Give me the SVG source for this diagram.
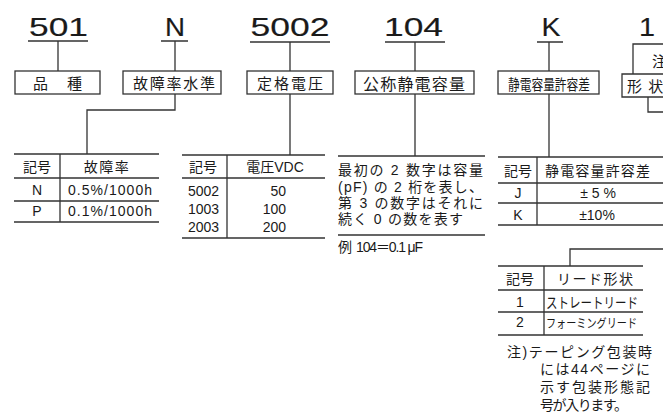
<svg xmlns="http://www.w3.org/2000/svg" width="663" height="414" viewBox="0 0 663 414">
<style>
.ln{stroke:#333;stroke-width:1.3;fill:none}
.bx{fill:#fff;stroke:#333;stroke-width:1.3}
.t{font-family:"Liberation Sans","Noto Sans CJK JP",sans-serif;fill:#1a1a1a}
.code{font-size:25px;stroke:#1a1a1a;stroke-width:0.15}
.lbl{font-size:15px}
.tb{font-size:14px}
.m{text-anchor:middle}
</style>
<rect width="663" height="414" fill="#fff"/>

<g id="connectors" class="ln">
<path d="M28 41H88M58 41V71"/>
<path d="M161 41H188M175 41V71M175 94V110H87V154"/>
<path d="M250 42H330M290 42V71M290 94V155"/>
<path d="M385 42H445M415 42V71M415 94V156"/>
<path d="M537 42H563M549 42V71M549 94V157"/>
<path d="M633 74V44H663"/>
<path d="M648 97V112H663"/>
<path d="M663 249H570V266"/>
</g>

<g id="code-501"><text class="t code" x="29" y="36" textLength="59" lengthAdjust="spacingAndGlyphs">501</text></g>
<g id="code-N"><text class="t code m" x="175" y="36" textLength="20" lengthAdjust="spacingAndGlyphs">N</text></g>
<g id="code-5002"><text class="t code" x="250.5" y="36" textLength="79" lengthAdjust="spacingAndGlyphs">5002</text></g>
<g id="code-104"><text class="t code" x="384" y="36" textLength="59" lengthAdjust="spacingAndGlyphs">104</text></g>
<g id="code-K"><text class="t code m" x="551" y="36" textLength="19" lengthAdjust="spacingAndGlyphs">K</text></g>
<g id="code-1"><text class="t code" x="639" y="36" textLength="16" lengthAdjust="spacingAndGlyphs">1</text></g>

<g id="box-hinshu"><rect class="bx" x="15" y="71" width="85" height="23"/><text class="t lbl" x="33" y="89" letter-spacing="2">品　種</text></g>
<g id="box-kosho"><rect class="bx" x="123" y="71" width="98" height="23"/><text class="t lbl" x="133" y="89" textLength="82" lengthAdjust="spacing">故障率水準</text></g>
<g id="box-teikaku"><rect class="bx" x="247" y="71" width="86" height="23"/><text class="t lbl" x="257" y="89" textLength="66" lengthAdjust="spacing">定格電圧</text></g>
<g id="box-kosho-yoryo"><rect class="bx" x="355" y="71" width="119" height="23"/><text class="t" font-size="16" x="363" y="89.5" textLength="102" lengthAdjust="spacing">公称静電容量</text></g>
<g id="box-kyoyosa"><rect class="bx" x="498" y="71" width="101" height="23"/><text class="t" font-size="15" x="508" y="89.5" textLength="82" lengthAdjust="spacingAndGlyphs">静電容量許容差</text></g>
<g id="box-keijo"><path class="ln" d="M663 74H622V97H663"/><text class="t lbl" x="627" y="92" letter-spacing="1">形 状</text><text class="t lbl" x="652" y="67">注</text></g>

<g id="table-kosho">
<path class="ln" d="M14 154H159M14 178H159M14 201H159M14 222H159M60 154V222"/>
<text class="t tb m" x="37" y="172">記号</text>
<text class="t tb m" x="107" y="172" letter-spacing="1.5">故障率</text>
<text class="t tb m" x="37" y="195">N</text>
<text class="t tb" x="68" y="195" textLength="84" lengthAdjust="spacing">0.5%/1000h</text>
<text class="t tb m" x="37" y="216">P</text>
<text class="t tb" x="68" y="216" textLength="84" lengthAdjust="spacing">0.1%/1000h</text>
</g>

<g id="table-voltage">
<path class="ln" d="M182 155H325M182 178H325M182 238H325M227 155V238"/>
<text class="t tb m" x="203" y="172">記号</text>
<text class="t tb m" x="275" y="172">電圧VDC</text>
<text class="t tb" x="188" y="196">5002</text>
<text class="t tb" x="188" y="214">1003</text>
<text class="t tb" x="188" y="232">2003</text>
<text class="t tb" x="286" y="196" text-anchor="end">50</text>
<text class="t tb" x="286" y="214" text-anchor="end">100</text>
<text class="t tb" x="286" y="232" text-anchor="end">200</text>
</g>

<g id="text-capacitance">
<path class="ln" d="M338 156H485M338 235H485"/>
<text class="t tb" x="338" y="175" textLength="145" lengthAdjust="spacing">最初の 2 数字は容量</text>
<text class="t tb" x="338" y="192" textLength="145" lengthAdjust="spacing">(pF) の 2 桁を表し、</text>
<text class="t tb" x="338" y="208" textLength="145" lengthAdjust="spacing">第 3 の数字はそれに</text>
<text class="t tb" x="338" y="224" textLength="125" lengthAdjust="spacing">続く 0 の数を表す</text>
<text class="t tb" x="338" y="252">例</text>
<text class="t tb" x="356" y="252" textLength="67" lengthAdjust="spacing">104＝0.1 μF</text>
</g>

<g id="table-tolerance">
<path class="ln" d="M498 157H663M498 183H663M498 203H663M498 225H663M537 157V225"/>
<text class="t tb m" x="518" y="176">記号</text>
<text class="t tb" x="545" y="176" textLength="105" lengthAdjust="spacing">静電容量許容差</text>
<text class="t tb m" x="518" y="198">J</text>
<text class="t tb m" x="598" y="198">± 5 %</text>
<text class="t tb m" x="518" y="220">K</text>
<text class="t tb m" x="597" y="220">±10%</text>
</g>

<g id="table-lead">
<path class="ln" d="M498 266H643M498 290H643M498 312H643M498 335H643M544 266V335"/>
<text class="t tb m" x="520" y="284">記号</text>
<text class="t tb" x="557" y="284" textLength="76" lengthAdjust="spacing">リード形状</text>
<text class="t tb m" x="520" y="307">1</text>
<text class="t" font-size="14.5" x="546" y="307.5" textLength="92" lengthAdjust="spacingAndGlyphs">ストレートリード</text>
<text class="t tb m" x="520" y="327">2</text>
<text class="t" font-size="12.5" x="546" y="327.5" textLength="91" lengthAdjust="spacingAndGlyphs">フォーミングリード</text>
</g>

<g id="note">
<text class="t tb" x="507" y="357" textLength="145" lengthAdjust="spacing">注)テーピング包装時</text>
<text class="t tb" x="540" y="374" textLength="110" lengthAdjust="spacing">には44ページに</text>
<text class="t tb" x="540" y="392" textLength="110" lengthAdjust="spacing">示す包装形態記</text>
<text class="t tb" x="540" y="410" textLength="88" lengthAdjust="spacing">号が入ります。</text>
</g>
</svg>
